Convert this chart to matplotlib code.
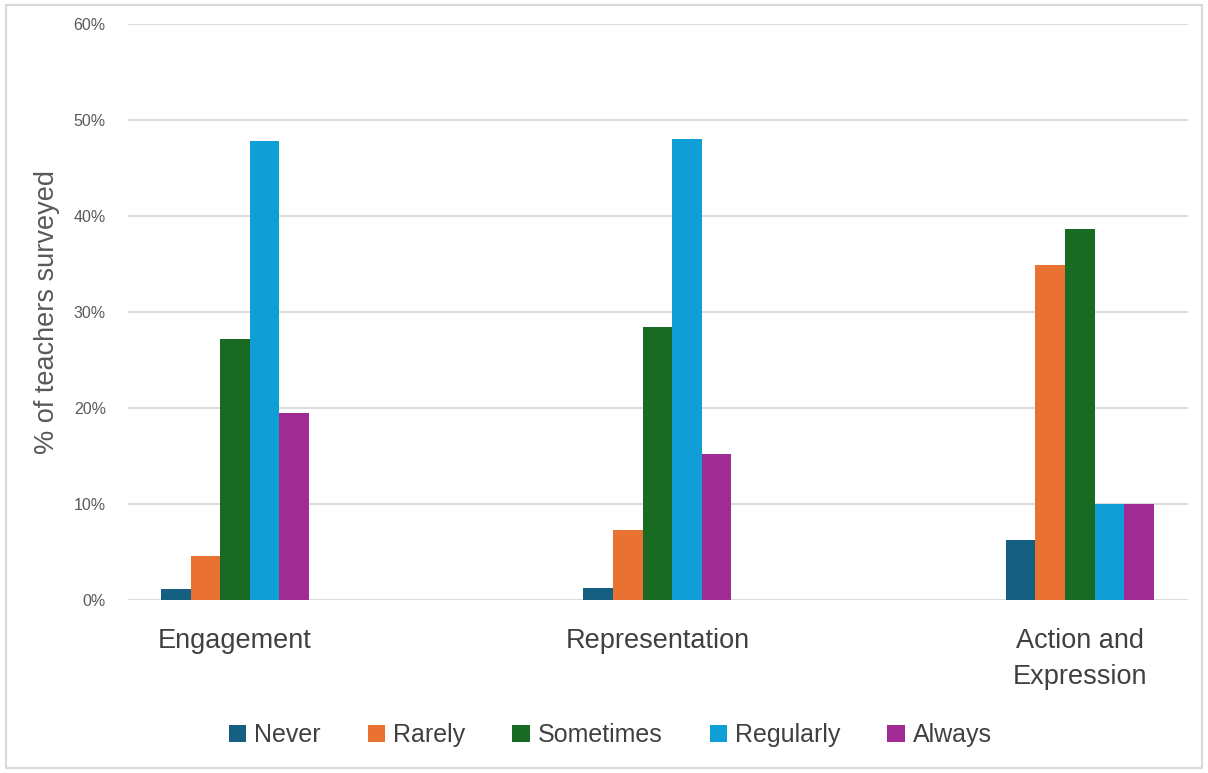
import matplotlib

matplotlib.use("Agg")

import matplotlib.pyplot as plt
import numpy as np
from matplotlib.patches import Rectangle
from matplotlib.ticker import PercentFormatter

plt.rcParams["font.family"] = ["Liberation Sans", "DejaVu Sans"]

categories = ["Engagement", "Representation", "Action and\nExpression"]
series = ["Never", "Rarely", "Sometimes", "Regularly", "Always"]
colors = ["#156082", "#E97132", "#196B24", "#0F9ED5", "#A02B93"]

never = [1.1, 1.3, 6.3]
rarely = [4.6, 7.3, 34.9]
sometimes = [27.2, 28.4, 38.6]
regularly = [47.8, 48.0, 10.0]
always = [19.5, 15.2, 10.0]
values = [never, rarely, sometimes, regularly, always]

fig = plt.figure(figsize=(12.08, 7.73), dpi=100)
ax = fig.add_axes([0.106, 0.2238, 0.8774, 0.7452])

x = np.arange(len(categories))
width = 0.07
for i, (name, vals, c) in enumerate(zip(series, values, colors)):
    ax.bar(x + (i - 2) * width, vals, width, color=c, label=name, zorder=3)

ax.set_xlim(-0.253, 2.256)
ax.set_ylim(0, 60)
ax.set_yticks(range(0, 61, 10))
ax.yaxis.set_major_formatter(PercentFormatter(decimals=0))
ax.grid(axis="y", color="#d9d9d9", linewidth=1.3, zorder=0)
for s in ax.spines.values():
    s.set_visible(False)
ax.tick_params(axis="y", length=0, pad=16, labelsize=11.5, labelcolor="#595959")
ax.tick_params(axis="x", length=0, pad=20, labelsize=19.5, labelcolor="#404040")
ax.set_xticks(x)
ax.set_xticklabels(categories, linespacing=1.5)
ax.set_ylabel("% of teachers surveyed", fontsize=19.5, color="#595959", labelpad=10)

leg = fig.legend(loc="center", bbox_to_anchor=(0.505, 0.049), ncol=5, frameon=False,
                 prop={"size": 18},
                 handlelength=0.7, handleheight=0.7, handletextpad=0.3, columnspacing=1.9)
for t in leg.get_texts():
    t.set_color("#404040")

fig.patches.append(Rectangle((0.005, 0.006), 0.99, 0.988, transform=fig.transFigure,
                             fill=False, edgecolor="#d9d9d9", linewidth=1.5))

fig.savefig("out.png", dpi=100)
